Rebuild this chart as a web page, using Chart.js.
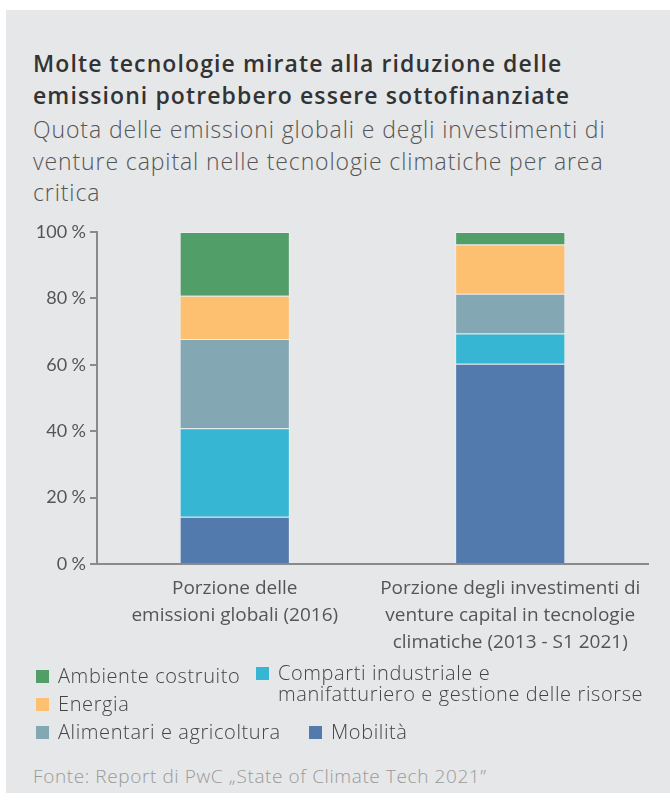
<!DOCTYPE html>
<html>
<head>
<meta charset="utf-8">
<script src="https://cdn.jsdelivr.net/npm/chart.js@4"></script>
<style>
  body { margin: 0; width: 670px; height: 803px; background: #fff; position: relative; font-family: "Open Sans", sans-serif; }
  .panel { position: absolute; left: 6px; top: 10px; width: 664px; height: 783px; background: #e6e7e9; }
  .title { position: absolute; left: 33px; top: 47px; font-size: 23px; line-height: 32px; font-weight: 600; color: #333; letter-spacing: 1.1px; white-space: nowrap; }
  .subtitle { position: absolute; left: 33px; top: 114px; font-size: 23px; line-height: 31.5px; font-weight: 300; color: #555; letter-spacing: 0.9px; white-space: nowrap; }
  #chart { position: absolute; left: 0; top: 200px; }
  .legend { position: absolute; left: 36px; top: 662px; font-size: 20px; font-weight: 300; color: #444; letter-spacing: 0.6px; }
  .row { display: grid; }
  .row1 { grid-template-columns: 220px auto; grid-template-rows: 28px 28px; }
  .row3 { grid-template-columns: 273px auto; }
  .item { display: flex; align-items: flex-start; line-height: 28px; white-space: nowrap; }
  .item .sw { width: 13px; height: 13px; margin-top: 8px; margin-right: 9px; flex: none; }
  .item.multi { line-height: 21px; }
  .item.multi .sw { margin-top: 5px; }
  .src { position: absolute; left: 33px; top: 763px; font-size: 19px; color: #9a9a9a; font-weight: 300; letter-spacing: 0.6px; white-space: nowrap; }
</style>
</head>
<body>
<div class="panel"></div>
<div class="title">Molte tecnologie mirate alla riduzione delle<br>emissioni potrebbero essere sottofinanziate</div>
<div class="subtitle">Quota delle emissioni globali e degli investimenti di<br>venture capital nelle tecnologie climatiche per area<br>critica</div>
<canvas id="chart" width="670" height="460"></canvas>
<div class="legend" id="legend"></div>
<div class="src">Fonte: Report di PwC „State of Climate Tech 2021”</div>
<script>
const categories = [
  ["Porzione delle", "emissioni globali (2016)"],
  ["Porzione degli investimenti di", "venture capital in tecnologie", "climatiche (2013 - S1 2021)"]
];
const seriesNames = ["Mobilità", "Comparti industriale e manifatturiero e gestione delle risorse", "Alimentari e agricoltura", "Energia", "Ambiente costruito"];
const mobilita = [14.2, 60.3];
const comparti = [26.7, 9.1];
const alimentari = [26.9, 12.0];
const energia = [13.0, 14.8];
const ambiente = [19.2, 3.8];
const yTicks = [0, 20, 40, 60, 80, 100];

const colors = ["#527aad", "#37b6d4", "#84a8b3", "#fdc070", "#529e69"];
const values = [mobilita, comparti, alimentari, energia, ambiente];

const axisColor = "#8a8a8a";

new Chart(document.getElementById('chart'), {
  type: 'bar',
  data: {
    labels: categories,
    datasets: values.map((v, i) => ({
      label: seriesNames[i],
      data: v,
      backgroundColor: colors[i],
      borderColor: 'rgba(255,255,255,0.3)',
      borderWidth: 1,
      barPercentage: 0.8,
      categoryPercentage: 0.5
    }))
  },
  options: {
    responsive: false,
    animation: false,
    layout: { padding: { top: 32, right: 22, left: 0, bottom: 0 } },
    plugins: { legend: { display: false }, tooltip: { enabled: false } },
    scales: {
      x: {
        stacked: true,
        grid: { display: false },
        border: { color: axisColor, width: 2 },
        ticks: { color: '#555', font: { family: "Open Sans", size: 19, lineHeight: 1.42 }, padding: 3, maxRotation: 0 },
        afterFit(s) { s.height = 96; }
      },
      y: {
        stacked: true,
        min: 0,
        max: 100,
        afterBuildTicks(s) { s.ticks = yTicks.map(v => ({ value: v })); },
        ticks: { color: '#555', font: { family: "Lato", size: 18 }, padding: 4, callback: v => v + '\u202F%' },
        grid: { drawOnChartArea: false, drawTicks: true, tickLength: 7, color: axisColor, lineWidth: 2 },
        border: { color: axisColor, width: 2 },
        afterFit(s) { s.width = 97; }
      }
    }
  }
});

// legend, laid out as in the reference
const el = document.getElementById('legend');
function item(i, multi) {
  const d = document.createElement('div');
  d.className = 'item' + (multi ? ' multi' : '');
  const sw = document.createElement('span');
  sw.className = 'sw';
  sw.style.background = colors[i];
  const t = document.createElement('span');
  if (multi) t.innerHTML = 'Comparti industriale e<br>manifatturiero e gestione delle risorse';
  else t.textContent = seriesNames[i];
  d.appendChild(sw); d.appendChild(t);
  return d;
}
const row1 = document.createElement('div');
row1.className = 'row row1';
const a = item(4); a.style.gridColumn = '1'; a.style.gridRow = '1';
const c = item(1, true); c.style.gridColumn = '2'; c.style.gridRow = '1 / span 2';
const e = item(3); e.style.gridColumn = '1'; e.style.gridRow = '2';
row1.append(a, c, e);
const row3 = document.createElement('div');
row3.className = 'row row3';
row3.append(item(2), item(0));
el.append(row1, row3);
</script>
</body>
</html>
